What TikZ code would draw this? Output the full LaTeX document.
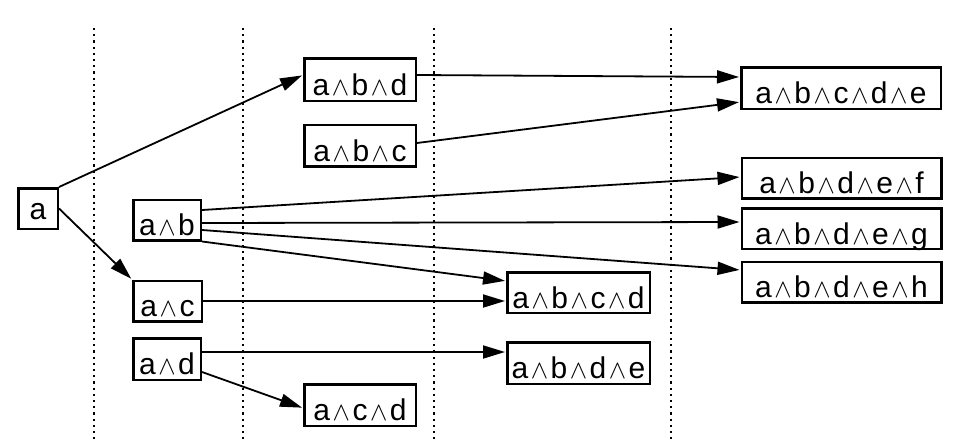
\documentclass[tikz,border=0pt]{standalone}
\usepackage{graphicx}
\usepackage{fontspec}
\setmainfont{Liberation Sans}
\usetikzlibrary{arrows.meta}
\newcommand\wg{\kern2.5pt\scalebox{2.6}{\normalsize$\wedge$}\kern2.5pt}
\begin{document}
\begin{tikzpicture}[x=1pt,y=-1pt,
  box/.style={draw=black,line width=2.5pt,inner sep=0pt,fill=white,
    text height=31pt,text depth=0pt,
    font=\fontsize{30}{32}\selectfont},
  edge/.style={line width=1.8pt,-{Triangle[length=22pt,width=13pt]},shorten >=1pt},
  sep/.style={line width=2.4pt,dash pattern=on 2.2pt off 4pt,black}]
\useasboundingbox (0,0) rectangle (972,442);
\foreach \x in {94,243,434,671}{\draw[sep] (\x,28) -- (\x,440);}
\node[box,text height=21pt,minimum width=39.5pt,minimum height=40.5pt] (a) at (38,208.5) {a};
\node[box,minimum width=67.5pt,minimum height=40.5pt] (ab) at (167,220) {a\wg b};
\node[box,minimum width=68.5pt,minimum height=40.5pt] (ac) at (167.5,301) {a\wg c};
\node[box,minimum width=67.5pt,minimum height=41.5pt] (ad) at (167,359) {a\wg d};
\node[box,minimum width=111.5pt,minimum height=42.5pt] (abd) at (360,79.5) {a\wg b\wg d};
\node[box,minimum width=111.5pt,minimum height=41.5pt] (abc) at (360,145.5) {a\wg b\wg c};
\node[box,minimum width=111.5pt,minimum height=41.5pt] (acd) at (360,405) {a\wg c\wg d};
\node[box,minimum width=142.5pt,minimum height=40.5pt] (abcd) at (578.5,292.5) {a\wg b\wg c\wg d};
\node[box,minimum width=142.5pt,minimum height=41.5pt] (abde) at (578.5,363) {a\wg b\wg d\wg e};
\node[box,minimum width=199.5pt,minimum height=41.5pt] (abcde) at (841,88) {a\wg b\wg c\wg d\wg e};
\node[box,minimum width=199.5pt,minimum height=40.5pt] (abdef) at (841.5,178) {a\wg b\wg d\wg e\wg f};
\node[box,minimum width=199.5pt,minimum height=40.5pt] (abdeg) at (841.5,228.5) {a\wg b\wg d\wg e\wg g};
\node[box,minimum width=199.5pt,minimum height=40.5pt] (abdeh) at (841.5,282) {a\wg b\wg d\wg e\wg h};
\draw[edge] (a.north east) -- ([yshift=4.5pt]abd.west);
\draw[edge] (a.east) -- (ac.north west);
\draw[edge] ([yshift=10pt]ab.east) -- ([yshift=1pt]abdef.west);
\draw[edge] ([yshift=-3pt]ab.east) -- ([yshift=6.5pt]abdeg.west);
\draw[edge] ([yshift=-10pt]ab.east) -- ([yshift=12pt]abdeh.west);
\draw[edge] (ab.south east) -- ([yshift=11.5pt]abcd.west);
\draw[edge] (ac.east) -- ([yshift=-8.5pt]abcd.west);
\draw[edge] ([yshift=7pt]ad.east) -- ([yshift=11pt]abde.west);
\draw[edge] ([yshift=-13pt]ad.east) -- ([yshift=-3pt]acd.west);
\draw[edge] ([yshift=4.5pt]abd.east) -- ([yshift=11pt]abcde.west);
\draw[edge] ([yshift=2.5pt]abc.east) -- ([yshift=-14pt]abcde.west);
\end{tikzpicture}
\end{document}
